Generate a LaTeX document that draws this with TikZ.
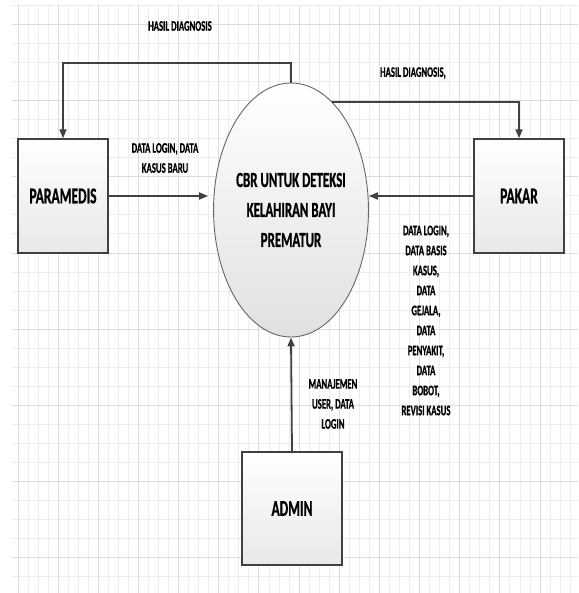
\documentclass[tikz,border=0pt]{standalone}
\usepackage{fontspec}
\newfontfamily\cf[FakeStretch=0.6, BoldFeatures={FakeBold=0.7}]{Carlito}
\usetikzlibrary{arrows.meta,shapes.geometric}
\definecolor{gminor}{HTML}{EDEDED}
\definecolor{gmajor}{HTML}{DCDCDC}
\definecolor{lc}{HTML}{404040}
\tikzset{
  ent/.style={draw=lc, line width=1.4pt, top color=white, bottom color=black!9,
    minimum width=90pt, minimum height=114pt, inner sep=0pt,
    font=\cf\bfseries\fontsize{22.5}{27}\selectfont},
  proc/.style={ellipse, draw=black!60, line width=0.9pt, top color=white, bottom color=black!12,
    minimum width=136pt, minimum height=254pt, inner sep=0pt, align=center,
    font=\cf\bfseries\fontsize{21.5}{30}\selectfont},
  lab/.style={font=\cf\bfseries\fontsize{14.5}{20}\selectfont, align=center, inner sep=0pt},
  conn/.style={draw=lc, line width=1.8pt, -{Triangle[length=9pt,width=7pt]}}
}
\begin{document}
\begin{tikzpicture}[x=1pt,y=-1pt]
\useasboundingbox (0,0) rectangle (578,593);
\fill[white] (0,0) rectangle (578,593);
% grid
\foreach \i in {0,...,55} \draw[gminor, line width=1pt] ({18+10.04*\i},6) -- ++(0,587);
\foreach \j in {0,...,30} \draw[gminor, line width=1pt] (12,{6+19*\j}) -- (578,{6+19*\j});
\foreach \i in {0,...,13} \draw[gmajor, line width=1pt] ({18+40.16*\i},6) -- ++(0,587);
\foreach \j in {0,...,7} \draw[gmajor, line width=1pt] (12,{25+76*\j}) -- (578,{25+76*\j});
% nodes
\node[ent] (para) at (63,196) {PARAMEDIS};
\node[ent] (pakar) at (519,196) {PAKAR};
\node[ent, minimum width=100pt, minimum height=113pt] (admin) at (292,508.5) {ADMIN};
\node[proc] (ell) at (291,210) {CBR UNTUK DETEKSI\\KELAHIRAN BAYI\\PREMATUR};
% connectors
\coordinate (tl) at (63,63);
\draw[conn] (ell.north) |- (tl) -- (para.north);
\draw[conn] (ell.69) -| (pakar.north);
\draw[conn, shorten >=5pt] (para.east) -- (para.east -| ell.west);
\draw[conn] (pakar.west) -- (pakar.west -| ell.east);
\draw[conn] (admin.north) -- (ell.south);
% labels
\node[lab] (l1) at (180,26) {HASIL DIAGNOSIS};
\node[lab] (l2) at (165,158) {DATA LOGIN, DATA\\KASUS BARU};
\node[lab] (l3) at (413,73) {HASIL DIAGNOSIS,};
\node[lab] (l4) at (426,320.5) {DATA LOGIN,\\DATA BASIS\\KASUS,\\DATA\\GEJALA,\\DATA\\PENYAKIT,\\DATA\\BOBOT,\\REVISI KASUS};
\node[lab] (l5) at (333,404) {MANAJEMEN\\USER, DATA\\LOGIN};
\end{tikzpicture}
\end{document}
